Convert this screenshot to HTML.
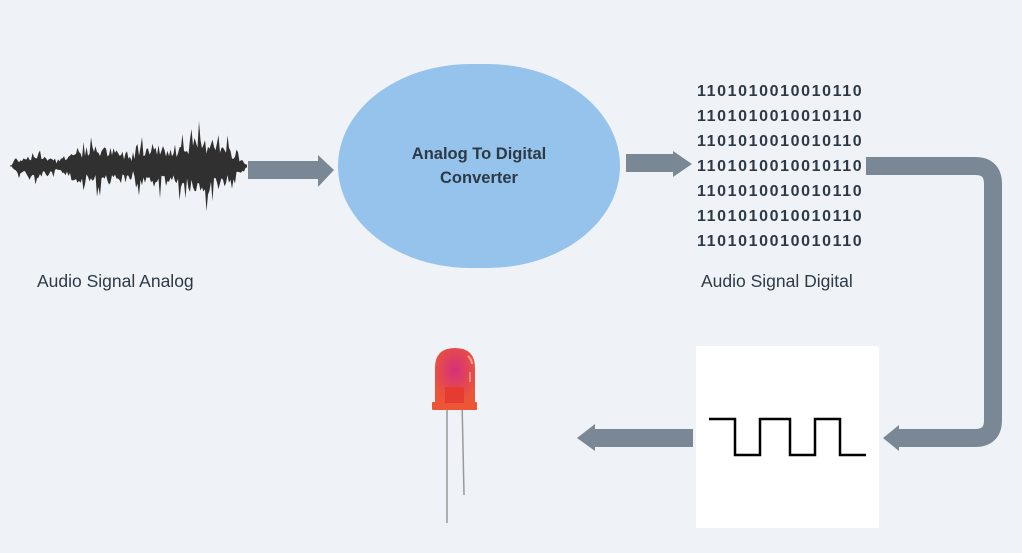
<!DOCTYPE html>
<html><head><meta charset="utf-8"><style>
body{margin:0;background:#eff3f7;width:1022px;height:553px;overflow:hidden;position:relative;font-family:"Liberation Sans",sans-serif;}
.t{position:absolute;color:#2d3a46;}
</style></head><body>
<div style="position:absolute;left:338px;top:64px;width:282px;height:204px;background:#95c3ec;border-radius:47%/50%;"></div>
<svg width="1022" height="553" style="position:absolute;left:0;top:0">
<path id="wave" fill="#303030" d=""/>
<polygon fill="#7a8896" points="248,161 318,161 318,155 334,170 318,187 318,179 248,179"/>
<polygon fill="#7a8896" points="626,154 673,154 673,151 692,164 673,177 673,172 626,172"/>
<path d="M866,166 L975,166 Q993,166 993,184 L993,420 Q993,438 975,438 L898,438" fill="none" stroke="#7a8896" stroke-width="18"/>
<polygon fill="#7a8896" points="899,425 883,438 899,451"/>
<rect x="696" y="346" width="183" height="182" rx="2" fill="#fff"/>
<polyline fill="none" stroke="#000" stroke-width="2.5" points="709,419 735,419 735,455 760,455 760,419 790,419 790,455 815,455 815,419 840,419 840,455 866,455"/>
<polygon fill="#7a8896" points="693,429 595,429 595,424 577,438 595,451 595,447 693,447"/>
<defs><radialGradient id="g" cx="0.5" cy="0.4" r="0.6"><stop offset="0" stop-color="#d6307a"/><stop offset="1" stop-color="#ec5637"/></radialGradient></defs>
<line x1="447" y1="400" x2="447" y2="523" stroke="#999" stroke-width="1.5"/>
<line x1="462" y1="400" x2="464" y2="495" stroke="#999" stroke-width="1.5"/>
<path d="M435,403 L435,368 Q435,348 455,348 Q475,348 475,368 L475,403 Z" fill="url(#g)"/>
<rect x="432" y="402" width="45" height="8" rx="1" fill="#ec5637"/>
<rect x="445" y="387" width="19" height="16" fill="#e63b30"/>
<path d="M468,356 Q472,360 472,364" stroke="#f8a090" stroke-width="2" fill="none"/>
<line x1="470" y1="372" x2="470" y2="382" stroke="#f38a7a" stroke-width="2"/>
</svg>
<div class="t" style="left:338px;width:282px;top:142px;text-align:center;font-weight:bold;font-size:16.5px;line-height:24px;">Analog To Digital<br>Converter</div>
<div class="t" style="left:697px;top:79px;font-weight:bold;font-size:16px;line-height:25px;letter-spacing:1.6px;">1101010010010110<br>1101010010010110<br>1101010010010110<br>1101010010010110<br>1101010010010110<br>1101010010010110<br>1101010010010110</div>
<div class="t" style="left:37px;top:271px;font-size:17.5px;">Audio Signal Analog</div>
<div class="t" style="left:701px;top:271px;font-size:17.5px;">Audio Signal Digital</div>
<script>
function env(x){
 if(x<12)return 1;
 if(x<60)return 4+12*Math.sin((x-12)/48*Math.PI);
 if(x<135)return 12+12*Math.sin((x-60)/75*Math.PI);
 if(x<165)return 28;
 if(x<248)return Math.max(2,34*(1-Math.pow((x-200)/48,2)));
 return 1;}
var tp=[],bt=[];var sd=7;
function rnd(){sd=(sd*9301+49297)%233280;return sd/233280;}
for(var x=10;x<=248;x+=1.5){var e=env(x);var a=e*(0.35+0.5*rnd())*(rnd()<0.2?1.6:1);var b=e*(0.35+0.5*rnd())*(rnd()<0.2?1.6:1);tp.push(x.toFixed(1)+","+(166-a).toFixed(1));bt.unshift(x.toFixed(1)+","+(166+b).toFixed(1));}
document.getElementById("wave").setAttribute("d","M"+tp.join(" L")+" L"+bt.join(" L")+"Z");
</script>
</body></html>
